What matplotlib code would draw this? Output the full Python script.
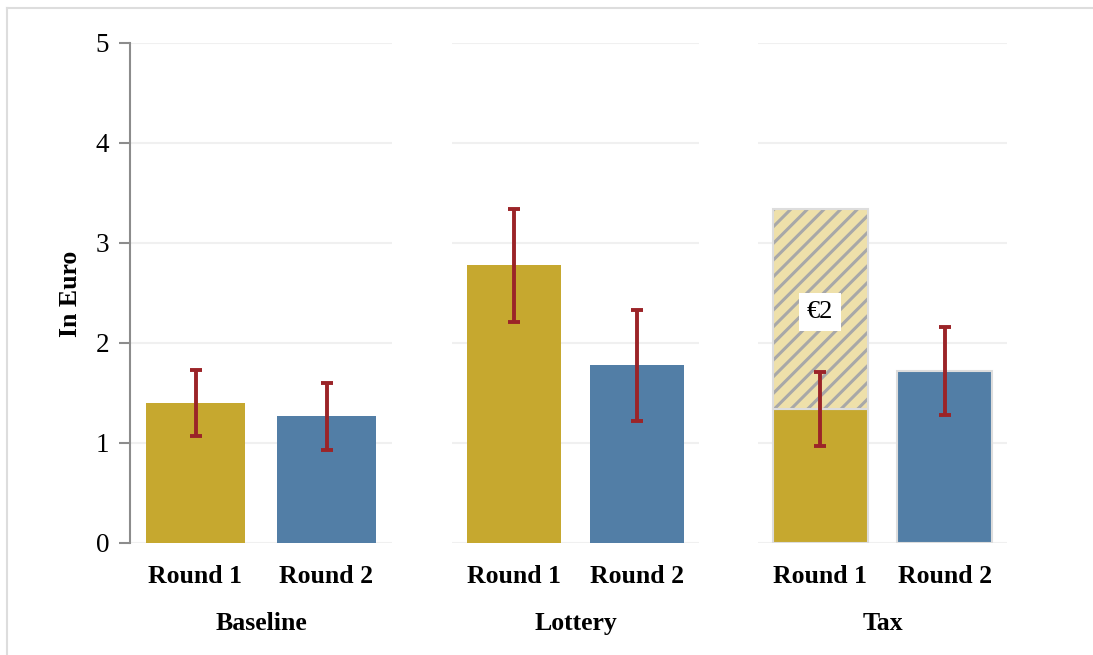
import matplotlib.pyplot as plt
from matplotlib.lines import Line2D

plt.rcParams['font.family'] = ['Liberation Serif', 'DejaVu Serif']
plt.rcParams['hatch.linewidth'] = 2.2

# data
groups = ['Baseline', 'Lottery', 'Tax']
rounds = ['Round 1', 'Round 2']
means = {'Baseline': [1.40, 1.27], 'Lottery': [2.78, 1.78], 'Tax': [1.34, 1.72]}
err_low = {'Baseline': [1.07, 0.93], 'Lottery': [2.21, 1.22], 'Tax': [0.97, 1.28]}
err_high = {'Baseline': [1.73, 1.60], 'Lottery': [3.34, 2.33], 'Tax': [1.71, 2.16]}
tax_bonus = 2.0
bonus_label = '€2'

GOLD = '#C6A82F'
BLUE = '#527EA6'
RED = '#9B2428'
W, H = 1093, 655

fig = plt.figure(figsize=(W / 100, H / 100), dpi=100)
# panel extents in pixels (left, right)
panels = [(130, 392), (452, 699), (758, 1007)]
bottom_px, top_px = 543, 43

axes = []
for i, (g, (l, r)) in enumerate(zip(groups, panels)):
    ax = fig.add_axes([l / W, 1 - bottom_px / H, (r - l) / W, (bottom_px - top_px) / H])
    axes.append(ax)
    x = [0, 1]
    edge = '#DDDDDD' if g == 'Tax' else 'none'
    lw = 1.5 if g == 'Tax' else 0
    ax.bar(x, means[g], width=0.76, color=[GOLD, BLUE], edgecolor=edge, linewidth=lw, zorder=2)
    if g == 'Tax':
        # hatched part showing the extra 2 euro on top of round 1
        ax.bar(0, tax_bonus, bottom=means[g][0], width=0.76, color='#EEE0AA',
               edgecolor='#A8A8A8', hatch='//', linewidth=0, zorder=2)
        ax.bar(0, tax_bonus, bottom=means[g][0], width=0.76, fill=False,
               edgecolor='#DDDDDD', linewidth=1.5, zorder=2.5)
        ax.text(0, means[g][0] + tax_bonus / 2 - 0.03, bonus_label, ha='center', va='center',
                fontsize=19, zorder=4,
                bbox=dict(boxstyle='square,pad=0.3', facecolor='white', edgecolor='none'))
    lo = [m - e for m, e in zip(means[g], err_low[g])]
    hi = [e - m for m, e in zip(means[g], err_high[g])]
    ax.errorbar(x, means[g], yerr=[lo, hi], fmt='none', ecolor=RED, elinewidth=2.8,
                capsize=4.5, capthick=2.8, zorder=3)

    ax.set_xlim(-0.5, 1.5)
    ax.set_ylim(0, 5)
    ax.set_yticks(range(6))
    ax.grid(axis='y', color='#F0F0F0', linewidth=1.5, zorder=0)
    ax.set_axisbelow(True)
    ax.set_xticks(x)
    ax.set_xticklabels(rounds, fontsize=18.5, fontweight='bold')
    ax.tick_params(axis='x', length=0, pad=16)
    ax.set_xlabel(g, fontsize=18.5, fontweight='bold', labelpad=17)
    for s in ['top', 'right', 'bottom']:
        ax.spines[s].set_visible(False)
    if i == 0:
        ax.spines['left'].set_color('#8C8C8C')
        ax.spines['left'].set_linewidth(1.5)
        ax.tick_params(axis='y', length=8, width=1.5, color='#8C8C8C', labelsize=19.5, pad=7)
        ax.set_ylabel('In Euro', fontsize=18.5, fontweight='bold')
        ax.yaxis.set_label_coords(-0.183, 0.498)
    else:
        ax.spines['left'].set_visible(False)
        ax.tick_params(axis='y', left=False, labelleft=False)

# light frame at top and left edges of the image
fig.add_artist(Line2D([7 / W, 7 / W], [0, 1 - 8 / H], color='#DDDDDD', linewidth=1.5))
fig.add_artist(Line2D([7 / W, 1], [1 - 8 / H, 1 - 8 / H], color='#DDDDDD', linewidth=1.5))

fig.savefig('out.png', dpi=100)
